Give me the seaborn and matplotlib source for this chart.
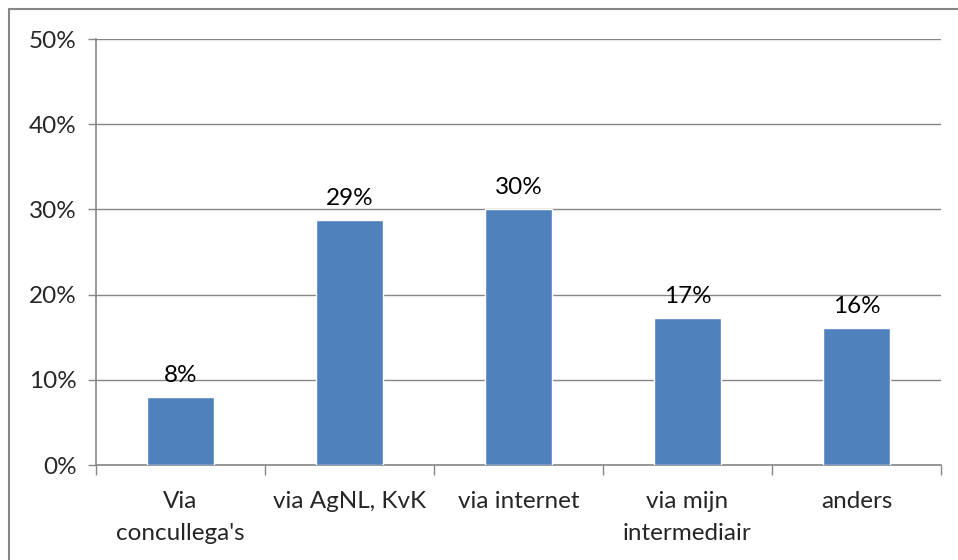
import matplotlib
matplotlib.use("Agg")
import matplotlib.pyplot as plt
from matplotlib.lines import Line2D
import numpy as np
import pandas as pd
import seaborn as sns

# Data
categories = ["Via\nconcullega's", "via AgNL, KvK", "via internet", "via mijn\nintermediair", "anders"]
percentages = [8.0, 28.7, 30.0, 17.2, 16.1]
y_ticks = [0, 10, 20, 30, 40, 50]

df = pd.DataFrame({"category": categories, "pct": percentages})

sns.set_style("white")
plt.rcParams['font.family'] = ['Lato', 'DejaVu Sans']

grey = '#868686'
fs = 17.5
fig = plt.figure(figsize=(9.58, 5.6), dpi=100)
ax = fig.add_axes([96 / 958, (560 - 465) / 560, (941 - 96) / 958, (465 - 39) / 560])

sns.barplot(data=df, x="category", y="pct", color='#4F81BD', width=0.4,
            saturation=1, ax=ax, zorder=3)

# value labels on top of the bars
for bars in ax.containers:
    ax.bar_label(bars, labels=[f"{v:.0f}%" for v in percentages],
                 padding=8, fontsize=fs, color='black')

ax.set_ylim(0, 50)
ax.set_xlim(-0.5, len(categories) - 0.5)
ax.set_yticks(y_ticks)
ax.set_yticklabels([f"{t}%" for t in y_ticks], fontsize=fs)
ax.set_xlabel("")
ax.set_ylabel("")
ax.set_xticks(range(len(categories)))
ax.set_xticklabels(categories, fontsize=fs, linespacing=1.6, va='top')
ax.tick_params(axis='x', length=0, pad=19)
ax.tick_params(axis='y', length=6, width=1, color=grey, direction='out', pad=8, left=True)
ax.set_xticks(np.arange(-0.5, len(categories), 1), minor=True)
ax.tick_params(axis='x', which='minor', length=7, width=1, color=grey, direction='out', bottom=True)

ax.yaxis.grid(True, color=grey, linewidth=1)
ax.set_axisbelow(True)
for side in ['top', 'right']:
    ax.spines[side].set_visible(False)
for side in ['left', 'bottom']:
    ax.spines[side].set_color(grey)
    ax.spines[side].set_linewidth(1.2)

# chart border: only the top and left edges fall inside the picture
x0 = 8.5 / 958
y0 = 1 - 8.5 / 560
fig.lines.append(Line2D([x0, 1], [y0, y0], transform=fig.transFigure, color=grey, linewidth=1.5))
fig.lines.append(Line2D([x0, x0], [0, y0], transform=fig.transFigure, color=grey, linewidth=1.5))

fig.savefig("out.png", dpi=100)
